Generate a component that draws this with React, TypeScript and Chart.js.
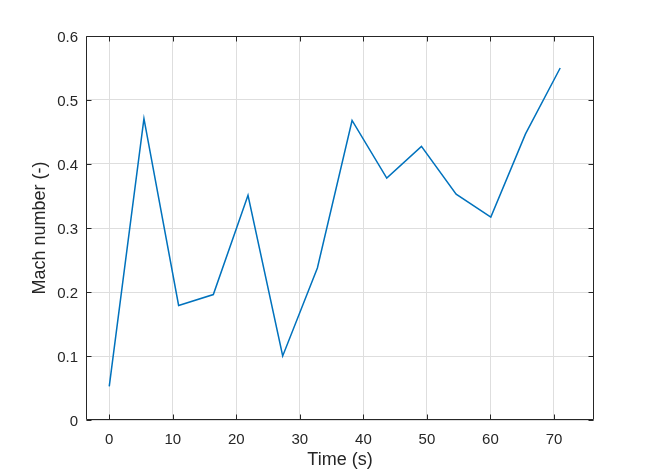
import React, { useEffect, useRef } from "react";
import { Chart, registerables } from "chart.js";

Chart.register(...registerables);

const times: number[] = [0, 5.46, 10.92, 16.38, 21.84, 27.3, 32.76, 38.22, 43.68, 49.14, 54.6, 60.06, 65.52, 70.98];
const mach: number[] = [0.0525, 0.471, 0.179, 0.196, 0.351, 0.1, 0.2375, 0.468, 0.378, 0.4275, 0.353, 0.317, 0.447, 0.55];

const xTicks: number[] = [0, 10, 20, 30, 40, 50, 60, 70];
const xTickLabels: string[] = ["0", "10", "20", "30", "40", "50", "60", "70"];
const yTicks: number[] = [0, 0.1, 0.2, 0.3, 0.4, 0.5, 0.6];
const yTickLabels: string[] = ["0", "0.1", "0.2", "0.3", "0.4", "0.5", "0.6"];

const xLabel = "Time (s)";
const yLabel = "Mach number (-)";

const FONT = "'Liberation Sans', Arial, Helvetica, sans-serif";
const TEXT = "#262626";
const GRID = "#dedede";
const LINE = "#0072BD";

const boxPlugin = {
  id: "matlabBox",
  afterDatasetsDraw(chart: any) {
    const { ctx, chartArea } = chart;
    const { left, right, top, bottom } = chartArea;
    const xs = chart.scales.x;
    const ys = chart.scales.y;
    const L = Math.round(left) + 0.5;
    const R = Math.round(right) - 0.5;
    const T = Math.round(top) + 0.5;
    const B = Math.round(bottom) - 0.5;
    ctx.save();
    ctx.strokeStyle = TEXT;
    ctx.lineWidth = 1;
    ctx.beginPath();
    const tl = 5;
    xTicks.forEach((v) => {
      const px = Math.round(xs.getPixelForValue(v)) + 0.5;
      ctx.moveTo(px, B);
      ctx.lineTo(px, B - tl);
      ctx.moveTo(px, T);
      ctx.lineTo(px, T + tl);
    });
    yTicks.forEach((v) => {
      const py = Math.round(ys.getPixelForValue(v)) + 0.5;
      ctx.moveTo(L, py);
      ctx.lineTo(L + tl, py);
      ctx.moveTo(R, py);
      ctx.lineTo(R - tl, py);
    });
    ctx.stroke();
    ctx.beginPath();
    ctx.rect(L, T, R - L, B - T);
    ctx.stroke();
    ctx.restore();
  },
};

export default function App() {
  const ref = useRef<HTMLCanvasElement | null>(null);

  useEffect(() => {
    document.body.style.margin = "0";
    const canvas = ref.current;
    if (!canvas) return;
    const chart = new Chart(canvas, {
      type: "line",
      data: {
        datasets: [
          {
            data: times.map((t, i) => ({ x: t, y: mach[i] })),
            borderColor: LINE,
            backgroundColor: LINE,
            borderWidth: 1.5,
            pointRadius: 0,
            tension: 0,
            fill: false,
          },
        ],
      },
      options: {
        animation: false,
        responsive: false,
        devicePixelRatio: 1,
        layout: { padding: { top: 36, right: 64, bottom: 0, left: 0 } },
        plugins: {
          legend: { display: false },
          tooltip: { enabled: false },
        },
        scales: {
          x: {
            type: "linear",
            min: -3.66,
            max: 76.3,
            afterBuildTicks: (scale: any) => {
              scale.ticks = xTicks.map((v) => ({ value: v }));
            },
            afterFit: (scale: any) => {
              scale.height = 54;
            },
            grid: { color: GRID, drawTicks: false, lineWidth: 1 },
            border: { display: false },
            ticks: {
              padding: 11,
              color: TEXT,
              font: { family: FONT, size: 15 },
              maxRotation: 0,
              callback: (v: any) => {
                const i = xTicks.indexOf(Number(v));
                return i >= 0 ? xTickLabels[i] : "";
              },
            },
            title: {
              display: true,
              text: xLabel,
              color: TEXT,
              font: { family: FONT, size: 18 },
              padding: { top: 0, bottom: 3 },
            },
          },
          y: {
            type: "linear",
            min: 0,
            max: 0.6,
            afterBuildTicks: (scale: any) => {
              scale.ticks = yTicks.map((v) => ({ value: v }));
            },
            afterFit: (scale: any) => {
              scale.width = 86;
            },
            grid: { color: GRID, drawTicks: false, lineWidth: 1 },
            border: { display: false },
            ticks: {
              padding: 8,
              labelOffset: 1.5,
              color: TEXT,
              font: { family: FONT, size: 15 },
              callback: (v: any) => {
                const i = yTicks.findIndex((t) => Math.abs(t - Number(v)) < 1e-9);
                return i >= 0 ? yTickLabels[i] : "";
              },
            },
            title: {
              display: true,
              text: yLabel,
              color: TEXT,
              font: { family: FONT, size: 18 },
              padding: { top: 29, bottom: 0 },
            },
          },
        },
      },
      plugins: [boxPlugin],
    });
    return () => chart.destroy();
  }, []);

  return (
    <div style={{ position: "absolute", left: 0, top: 0, width: 658, height: 474, background: "#fff" }}>
      <canvas ref={ref} width={658} height={474} style={{ display: "block", width: 658, height: 474 }} />
    </div>
  );
}
